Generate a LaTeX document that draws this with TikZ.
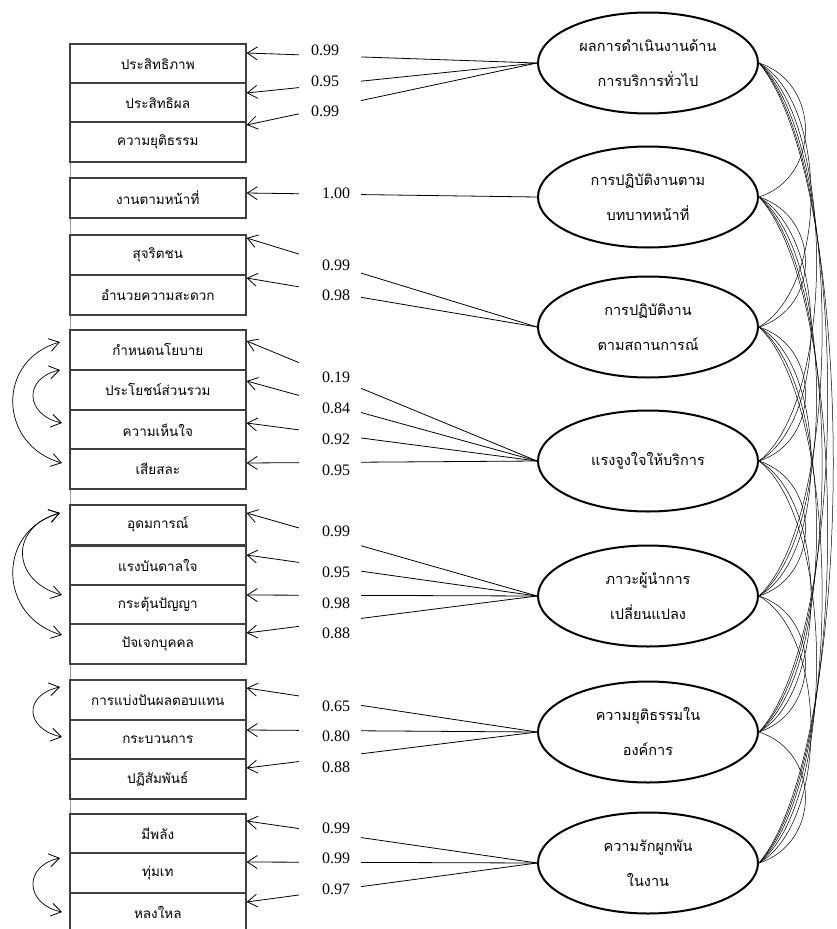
\documentclass[tikz,border=0pt]{standalone}
\usepackage{fontspec}
\setmainfont{Liberation Serif}
\newfontfamily\thaifont[Script=Thai]{Loma}
\usetikzlibrary{arrows.meta,calc,shapes.geometric}
\begin{document}
\begin{tikzpicture}[x=1pt,y=-1pt,
  ind/.style={draw=black!75, line width=1.6pt, minimum width=176pt, minimum height=40pt,
    inner sep=0pt, anchor=north west, fill=white, font=\thaifont\fontsize{13.5}{15}\selectfont},
  lat/.style={ellipse, draw, line width=2pt, minimum width=220pt, minimum height=101pt,
    inner sep=0pt, align=center, font=\thaifont\fontsize{14.5}{35}\selectfont},
  barb/.tip={Straight Barb[length=10pt,width=13pt,line width=0.8pt]},
  load/.style={-barb, line width=0.8pt},
  cov/.style={line width=0.5pt},
  err/.style={barb-barb, line width=0.7pt},
  num/.style={font=\fontsize{16}{16}\selectfont, inner sep=0pt}]
\useasboundingbox (0,0) rectangle (837,929);
% thin guide line at left
\draw[black!40, line width=0.4pt] (70,43) -- (70,929);
% indicators
\node[ind] (b1) at (69,43) {ประสิทธิภาพ};
\node[ind] (b2) at (69,82) {ประสิทธิผล};
\node[ind] (b3) at (69,121) {ความยุติธรรม};
\node[ind] (b4) at (69,177) {งานตามหน้าที่};
\node[ind] (b5) at (69,234) {สุจริตชน};
\node[ind] (b6) at (69,274) {อำนวยความสะดวก};
\node[ind] (b7) at (69,329) {กำหนดนโยบาย};
\node[ind] (b8) at (69,369) {ประโยชน์ส่วนรวม};
\node[ind] (b9) at (69,409) {ความเห็นใจ};
\node[ind] (b10) at (69,448) {เสียสละ};
\node[ind] (b11) at (69,504) {อุดมการณ์};
\node[ind] (b12) at (69,545) {แรงบันดาลใจ};
\node[ind] (b13) at (69,584) {กระตุ้นปัญญา};
\node[ind] (b14) at (69,623) {ปัจเจกบุคคล};
\node[ind] (b15) at (69,679) {การแบ่งปันผลตอบแทน};
\node[ind] (b16) at (69,719) {กระบวนการ};
\node[ind] (b17) at (69,758) {ปฏิสัมพันธ์};
\node[ind] (b18) at (69,813) {มีพลัง};
\node[ind] (b19) at (69,852) {ทุ่มเท};
\node[ind] (b20) at (69,892) {หลงใหล};
% latent variables
\node[lat] (L1) at (648,63) {ผลการดำเนินงานด้าน\\การบริการทั่วไป};
\node[lat] (L2) at (648,197) {การปฏิบัติงานตาม\\บทบาทหน้าที่};
\node[lat] (L3) at (648,327) {การปฏิบัติงาน\\ตามสถานการณ์};
\node[lat] (L4) at (648,461) {แรงจูงใจให้บริการ};
\node[lat] (L5) at (648,596) {ภาวะผู้นำการ\\เปลี่ยนแปลง};
\node[lat] (L6) at (648,732) {ความยุติธรรมใน\\องค์การ};
\node[lat] (L7) at (648,863) {ความรักผูกพัน\\ในงาน};
% arrow targets on indicators
\foreach \b/\o in {1/10,2/11,3/4,4/16,5/4,6/4,7/12,8/12,9/14,10/15,11/9,12/10,13/11,14/10,15/9,16/11,17/10,18/8,19/10,20/10}
  \coordinate (t\b) at ($(b\b.north east)+(0,\o)$);
% loadings
\foreach \l/\b in {1/1,1/2,1/3,2/4,3/5,3/6,4/7,4/8,4/9,4/10,5/11,5/12,5/13,5/14,6/15,6/16,6/17,7/18,7/19,7/20}
  \draw[load] (L\l.west) -- (t\b);
% gap behind the numbers
\fill[white] (299,30) rectangle (361,925);
\foreach \t/\x/\y in {0.99/325/50,0.95/325/81,0.99/325/111,1.00/336/193,0.99/336/265,0.98/336/295,
  0.19/336/377,0.84/336/408,0.92/336/439,0.95/336/470,0.99/336/531,0.95/336/572,0.98/336/603,0.88/336/633,
  0.65/336/706,0.80/336/736,0.88/336/767,0.99/336/828,0.99/336/858,0.97/336/889}
  \node[num] at (\x,\y) {\t};
% correlations among latent variables
\foreach \i in {1,...,6}{
  \pgfmathtruncatemacro\s{\i+1}
  \foreach \j in {\s,...,7}{
    \pgfmathsetmacro\k{62+7.4*(\j-\i-1)}
    \pgfmathsetmacro\d{20*(\j-\i)}
    \draw[cov] (L\i.east) .. controls +(\k,\d) and +(\k,-\d) .. (L\j.east);
  }
}
% correlated errors
\coordinate (e7) at ($(b7.north west)+(-9,13)$);
\coordinate (e8) at ($(b8.north west)+(-9,1)$);
\coordinate (e9) at ($(b9.north west)+(-7,14)$);
\coordinate (e10) at ($(b10.north west)+(-7,15)$);
\coordinate (e11) at ($(b11.north west)+(-9,9)$);
\coordinate (e13) at ($(b13.north west)+(-7,11)$);
\coordinate (e14) at ($(b14.north west)+(-7,12)$);
\coordinate (e15) at ($(b15.north west)+(-9,8)$);
\coordinate (e16) at ($(b16.north west)+(-7,18)$);
\coordinate (e19) at ($(b19.north west)+(-9,6)$);
\coordinate (e20) at ($(b20.north west)+(-7,20)$);
\draw[err] (e7) .. controls +(-64,18) and +(-64,-18) .. (e10);
\draw[err] (e8) .. controls +(-37,8) and +(-37,-8) .. (e9);
\draw[err] (e11) .. controls +(-51,14) and +(-51,-14) .. (e13);
\draw[err] (e11) .. controls +(-64,18) and +(-64,-18) .. (e14);
\draw[err] (e15) .. controls +(-37,8) and +(-37,-8) .. (e16);
\draw[err] (e19) .. controls +(-37,8) and +(-37,-8) .. (e20);
\end{tikzpicture}
\end{document}
